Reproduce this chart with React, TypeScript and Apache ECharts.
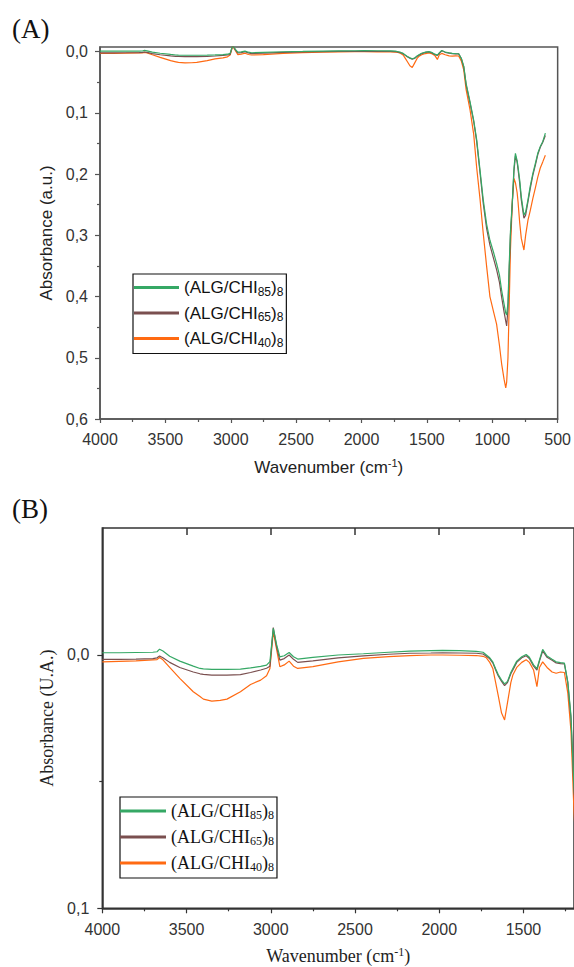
import React, { useEffect, useRef } from "react";
import * as echarts from "echarts";

// Wavenumbers (cm-1), shared by all spectra
const wavenumbers = [
  4000, 3900, 3800, 3700, 3675, 3660, 3640, 3600, 3540, 3460, 3420, 3400, 3350, 3300, 3260, 3180, 3120, 3060, 3025, 3005,
  2985, 2965, 2946, 2920, 2891, 2865, 2840, 2750, 2600, 2450, 2300, 2175, 2050, 1980, 1880, 1780, 1740, 1720, 1700, 1682,
  1665, 1650, 1630, 1612, 1595, 1575, 1563, 1540, 1510, 1484, 1465, 1440, 1420, 1405, 1386, 1360, 1330, 1306, 1280, 1257,
  1237, 1218, 1200, 1170, 1142, 1119, 1094, 1069, 1043, 1018, 990, 967, 945, 929, 910, 897, 890, 880, 871, 861,
  846, 834, 823, 810, 803, 790, 778, 758, 745, 727, 710, 690, 670, 652, 633, 614, 594,
];

const chi85 = [
  -0.0008, -0.0008, -0.0009, -0.001, -0.0012, -0.0022, -0.0015, 0.0006, 0.0025, 0.0045, 0.0054, 0.0056, 0.0058, 0.0058, 0.0058, 0.0057, 0.0052, 0.0046, 0.0041, 0.0027,
  -0.0104, -0.004, 0.0008, 0.0004, -0.0009, 0.0008, 0.0017, 0.001, 0.0001, -0.0004, -0.001, -0.0014, -0.0016, -0.0017, -0.0016, -0.0013, -0.001, 0.0001, 0.0012, 0.0028,
  0.0055, 0.0078, 0.01, 0.0115, 0.0105, 0.007, 0.0054, 0.0025, 0.0008, -0.0001, 0.001, 0.004, 0.0055, 0.002, -0.0021, 0.0005, 0.0018, 0.0028, 0.0031, 0.0033,
  0.0106, 0.024, 0.052, 0.082, 0.112, 0.144, 0.193, 0.242, 0.282, 0.308, 0.328, 0.346, 0.365, 0.389, 0.412, 0.427, 0.43, 0.41, 0.351, 0.294,
  0.242, 0.19, 0.166, 0.178, 0.188, 0.21, 0.237, 0.267, 0.262, 0.242, 0.22, 0.199, 0.182, 0.166, 0.155, 0.147, 0.133,
];

const chi65 = [
  0.0018, 0.0018, 0.0017, 0.0015, 0.0012, 0.0005, 0.0012, 0.003, 0.005, 0.0068, 0.0075, 0.0077, 0.008, 0.008, 0.008, 0.0078, 0.007, 0.006, 0.0053, 0.0045,
  -0.0107, -0.003, 0.0021, 0.0015, 0.0001, 0.0018, 0.003, 0.0024, 0.0012, 0.0004, -0.0002, -0.0006, -0.0007, -0.0008, -0.0007, -0.0006, -0.0003, 0.0006, 0.0016, 0.0032,
  0.006, 0.0083, 0.0105, 0.0122, 0.011, 0.0075, 0.006, 0.003, 0.0012, 0.0004, 0.0015, 0.0045, 0.006, 0.0025, -0.0015, 0.001, 0.0022, 0.0032, 0.0035, 0.0036,
  0.011, 0.025, 0.054, 0.084, 0.114, 0.147, 0.197, 0.248, 0.289, 0.316, 0.338, 0.356, 0.377, 0.4, 0.425, 0.44, 0.448, 0.42, 0.36, 0.3,
  0.245, 0.195, 0.17, 0.18, 0.192, 0.215, 0.242, 0.272, 0.267, 0.245, 0.224, 0.202, 0.185, 0.168, 0.156, 0.148, 0.137,
];

const chi40 = [
  0.0028, 0.0026, 0.0024, 0.002, 0.0019, 0.0011, 0.002, 0.005, 0.0093, 0.0146, 0.0165, 0.0175, 0.0183, 0.018, 0.0175, 0.0146, 0.0117, 0.01, 0.0083, 0.0054,
  -0.0091, -0.002, 0.0047, 0.004, 0.0025, 0.0045, 0.0054, 0.0047, 0.0028, 0.0014, 0.0007, 0.0003, 0.0001, 0.0001, 0.0002, 0.0003, 0.0006, 0.0012, 0.003, 0.0054,
  0.011, 0.016, 0.023, 0.0257, 0.019, 0.011, 0.008, 0.005, 0.003, 0.002, 0.003, 0.006, 0.0126, 0.005, 0.0028, 0.005, 0.0068, 0.0073, 0.0068, 0.007,
  0.015, 0.03, 0.062, 0.095, 0.135, 0.19, 0.24, 0.297, 0.351, 0.4, 0.425, 0.445, 0.48, 0.509, 0.535, 0.549, 0.54, 0.5, 0.417, 0.324,
  0.242, 0.207, 0.214, 0.23, 0.245, 0.28, 0.305, 0.324, 0.3, 0.275, 0.26, 0.24, 0.222, 0.205, 0.19, 0.18, 0.169,
];

const seriesNames = ["(ALG/CHI85)8", "(ALG/CHI65)8", "(ALG/CHI40)8"];
const seriesSubs = ["85", "65", "40"];
const seriesColors = ["#35a865", "#7a4f4f", "#ff6a12"];

const yTicksA = [0, 0.1, 0.2, 0.3, 0.4, 0.5, 0.6];
const yMinorA = [0.05, 0.15, 0.25, 0.35, 0.45, 0.55];
const xTicksB = [4000, 3500, 3000, 2500, 2000, 1500];
const xMinorB = [3750, 3250, 2750, 2250, 1750, 1250];
const yTicksB = [0, 0.1];
const yMinorB = [0.05];

const SANS = "Liberation Sans";
const SERIF = "Liberation Serif";

const fmtComma = (v: number) => v.toFixed(1).replace(".", ",");
const fmtPlain = (v: number) => String(Math.round(v));

export default function App() {
  const ref = useRef<HTMLDivElement>(null);

  useEffect(() => {
    if (!ref.current) return;
    const chart = echarts.init(ref.current, null, { renderer: "svg" });
    const pairs = (arr: number[]) => wavenumbers.map((w, i) => [w, arr[i]]);
    const datasets = [chi85, chi65, chi40];

    const legendRich = (family: string, size: number, sub: number) => ({
      a: { fontFamily: family, fontSize: size, lineHeight: 20, color: "#111" },
      s: { fontFamily: family, fontSize: sub, lineHeight: 10, verticalAlign: "bottom", color: "#111" },
    });
    const legendFmt = (name: string) => {
      const i = seriesNames.indexOf(name);
      return `{a|(ALG/CHI}{s|${seriesSubs[i]}}{a|)}{s|8}`;
    };

    const order = [2, 1, 0];
    const series: any[] = [];
    for (const panel of [0, 1]) {
      for (const i of order) {
        series.push({
          type: "line",
          name: seriesNames[i],
          xAxisIndex: panel === 0 ? 0 : 1,
          yAxisIndex: panel === 0 ? 0 : 2,
          data: pairs(datasets[i]),
          showSymbol: false,
          symbol: "none",
          clip: true,
          lineStyle: { color: seriesColors[i], width: 1.2 },
          itemStyle: { color: seriesColors[i] },
        });
      }
    }

    const option: any = {
      animation: false,
      grid: [
        { left: 100, top: 47, width: 461.7, height: 372, show: true, borderColor: "#555", borderWidth: 1.5 },
        { left: 102.3, top: 528, width: 472.4, height: 380.3, show: true, borderColor: "#333", borderWidth: 1.5 },
      ],
      xAxis: [
        {
          gridIndex: 0, type: "value", min: 500, max: 4000, interval: 500, inverse: true, position: "bottom",
          axisLine: { onZero: false, lineStyle: { color: "#555", width: 1.5 } },
          axisTick: { length: 4, lineStyle: { color: "#555", width: 1.2 } },
          minorTick: { show: true, splitNumber: 2, length: 3, lineStyle: { color: "#555", width: 1.2 } },
          splitLine: { show: false },
          axisLabel: { formatter: fmtPlain, fontFamily: SANS, fontSize: 16, color: "#333", margin: 12 },
          name: "{a|Wavenumber (cm}{s|-1}{a|)}",
          nameLocation: "middle", nameGap: 38,
          nameTextStyle: {
            rich: {
              a: { fontFamily: SANS, fontSize: 17, lineHeight: 20, color: "#222" },
              s: { fontFamily: SANS, fontSize: 11, lineHeight: 10, verticalAlign: "top", color: "#222" },
            },
          },
        },
        {
          gridIndex: 1, type: "value", min: 1200, max: 4000, inverse: true, position: "bottom",
          axisLine: { onZero: false, lineStyle: { color: "#333", width: 1.5 } },
          axisTick: { customValues: xTicksB, length: 5, lineStyle: { color: "#333", width: 1.2 } },
          splitLine: { show: false },
          axisLabel: { customValues: xTicksB, formatter: fmtPlain, fontFamily: SANS, fontSize: 16, color: "#333", margin: 13 },
          name: "{a|Wavenumber (cm}{s|-1}{a|)}",
          nameLocation: "middle", nameGap: 38,
          nameTextStyle: {
            rich: {
              a: { fontFamily: SERIF, fontSize: 18, lineHeight: 20, color: "#222" },
              s: { fontFamily: SERIF, fontSize: 12, lineHeight: 10, verticalAlign: "top", color: "#222" },
            },
          },
        },
        {
          gridIndex: 1, type: "value", min: 1200, max: 4000, inverse: true, position: "bottom",
          axisLine: { show: false, onZero: false }, axisLabel: { show: false }, splitLine: { show: false },
          axisTick: { customValues: xMinorB, length: 3, lineStyle: { color: "#333", width: 1.2 } },
        },
        {
          gridIndex: 1, type: "value", min: 1200, max: 4000, inverse: true, position: "top",
          axisLine: { show: false, onZero: false }, axisLabel: { show: false }, splitLine: { show: false },
          axisTick: { inside: true, customValues: xTicksB.slice(1), length: 7, lineStyle: { color: "#333", width: 1.5 } },
        },
      ],
      yAxis: [
        {
          gridIndex: 0, type: "value", min: -0.0077, max: 0.6, inverse: true, position: "left",
          axisLine: { onZero: false, lineStyle: { color: "#555", width: 1.5 } },
          axisTick: { customValues: yTicksA, length: 5, lineStyle: { color: "#555", width: 1.2 } },
          axisLabel: { customValues: yTicksA, formatter: fmtComma, fontFamily: SANS, fontSize: 16, color: "#333", margin: 12 },
          splitLine: { show: false },
          name: "Absorbance (a.u.)", nameLocation: "middle", nameGap: 45,
          nameTextStyle: { fontFamily: SANS, fontSize: 17, color: "#222" },
        },
        {
          gridIndex: 0, type: "value", min: -0.0077, max: 0.6, inverse: true, position: "left",
          axisLine: { show: false, onZero: false }, axisLabel: { show: false }, splitLine: { show: false },
          axisTick: { customValues: yMinorA, length: 3, lineStyle: { color: "#555", width: 1.2 } },
        },
        {
          gridIndex: 1, type: "value", min: -0.05, max: 0.1, inverse: true, position: "left",
          axisLine: { onZero: false, lineStyle: { color: "#333", width: 1.5 } },
          axisTick: { customValues: yTicksB, length: 5, lineStyle: { color: "#333", width: 1.2 } },
          axisLabel: { customValues: yTicksB, formatter: fmtComma, fontFamily: SANS, fontSize: 16, color: "#333", margin: 13 },
          splitLine: { show: false },
          name: "Absorbance (U.A.)", nameLocation: "middle", nameGap: 36,
          nameTextStyle: { fontFamily: SERIF, fontSize: 18, color: "#222" },
        },
        {
          gridIndex: 1, type: "value", min: -0.05, max: 0.1, inverse: true, position: "left",
          axisLine: { show: false, onZero: false }, axisLabel: { show: false }, splitLine: { show: false },
          axisTick: { customValues: yMinorB, length: 3, lineStyle: { color: "#333", width: 1.2 } },
        },
      ],
      legend: [
        {
          data: seriesNames, left: 133, top: 274, orient: "vertical", icon: "rect",
          itemWidth: 45, itemHeight: 3, itemGap: 7, itemTextGap: 3,
          padding: [5, 3, 5, 1], borderColor: "#111", borderWidth: 1.2, selectedMode: false,
          formatter: legendFmt, textStyle: { rich: legendRich(SANS, 17, 12) },
        },
        {
          data: seriesNames, left: 120, top: 797, orient: "vertical", icon: "rect",
          itemWidth: 46, itemHeight: 3, itemGap: 7, itemTextGap: 2,
          padding: [5, 3, 5, 0], borderColor: "#111", borderWidth: 1.2, selectedMode: false,
          formatter: legendFmt, textStyle: { rich: legendRich(SERIF, 18, 12) },
        },
      ],
      graphic: [
        { type: "text", left: 12, top: 15, style: { text: "(A)", font: `27px '${SERIF}'`, fill: "#111" } },
        { type: "text", left: 12, top: 495, style: { text: "(B)", font: `27px '${SERIF}'`, fill: "#111" } },
      ],
      series,
    };

    chart.setOption(option);
    return () => chart.dispose();
  }, []);

  return (
    <div
      ref={ref}
      style={{ position: "absolute", left: 0, top: 0, width: 574, height: 967, background: "#fff" }}
    />
  );
}
